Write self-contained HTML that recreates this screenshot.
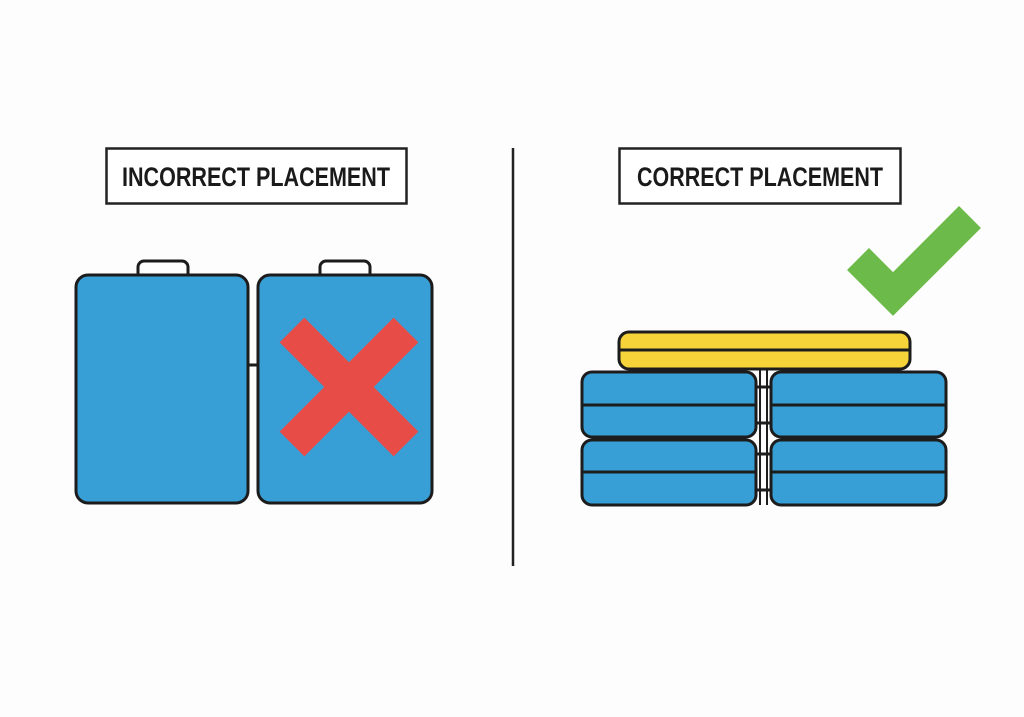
<!DOCTYPE html>
<html><head><meta charset="utf-8"><style>
html,body{margin:0;padding:0;background:#fdfdfd;}
svg{display:block}
text{font-family:"Liberation Sans Narrow","Liberation Sans",sans-serif;font-weight:bold;}
</style></head><body>
<svg width="1024" height="717" viewBox="0 0 1024 717" xmlns="http://www.w3.org/2000/svg">
<rect width="1024" height="717" fill="#fdfdfd"/>
<rect x="106.5" y="148.5" width="300" height="55" fill="#fff" stroke="#222" stroke-width="2.5"/>
<text x="256" y="186" font-size="27" text-anchor="middle" fill="#1a1a1a" textLength="268" lengthAdjust="spacingAndGlyphs">INCORRECT PLACEMENT</text>
<rect x="619.5" y="148.5" width="281" height="55" fill="#fff" stroke="#222" stroke-width="2.5"/>
<text x="760" y="186" font-size="27" text-anchor="middle" fill="#1a1a1a" textLength="246" lengthAdjust="spacingAndGlyphs">CORRECT PLACEMENT</text>
<line x1="513" y1="148" x2="513" y2="566" stroke="#222" stroke-width="2.5"/>
<g stroke="#1c1c1c" stroke-width="3">
<rect x="138" y="261" width="50" height="20" rx="6" fill="#fff"/>
<rect x="320" y="261" width="50" height="20" rx="6" fill="#fff"/>
<line x1="248" y1="365" x2="258" y2="365"/>
<rect x="76" y="275" width="172" height="228" rx="12" fill="#389fd6"/>
<rect x="258" y="275" width="174" height="228" rx="12" fill="#389fd6"/>
</g>
<g stroke="#e84c46" stroke-width="35">
<line x1="292" y1="330" x2="406" y2="444"/>
<line x1="406" y1="330" x2="292" y2="444"/>
</g>
<g stroke="#1c1c1c" stroke-width="3">
<line x1="756" y1="387" x2="771" y2="387"/><line x1="756" y1="423" x2="771" y2="423"/>
<line x1="756" y1="454" x2="771" y2="454"/><line x1="756" y1="490" x2="771" y2="490"/>
<line x1="760" y1="370" x2="760" y2="505" stroke-width="2"/><line x1="767" y1="370" x2="767" y2="505" stroke-width="2"/>
<rect x="619" y="332" width="291" height="37" rx="10" fill="#f7d33a"/>
<line x1="620" y1="350" x2="909" y2="350"/>
<rect x="582" y="372" width="174" height="65" rx="10" fill="#389fd6"/>
<rect x="771" y="372" width="175" height="65" rx="10" fill="#389fd6"/>
<rect x="582" y="440" width="174" height="65" rx="10" fill="#389fd6"/>
<rect x="771" y="440" width="175" height="65" rx="10" fill="#389fd6"/>
<line x1="583" y1="405" x2="755" y2="405"/><line x1="772" y1="405" x2="945" y2="405"/>
<line x1="583" y1="472" x2="755" y2="472"/><line x1="772" y1="472" x2="945" y2="472"/>
</g>
<polyline points="858,259 893,294 970,217" fill="none" stroke="#6cbb4a" stroke-width="31" stroke-linejoin="miter"/>
</svg>
</body></html>
